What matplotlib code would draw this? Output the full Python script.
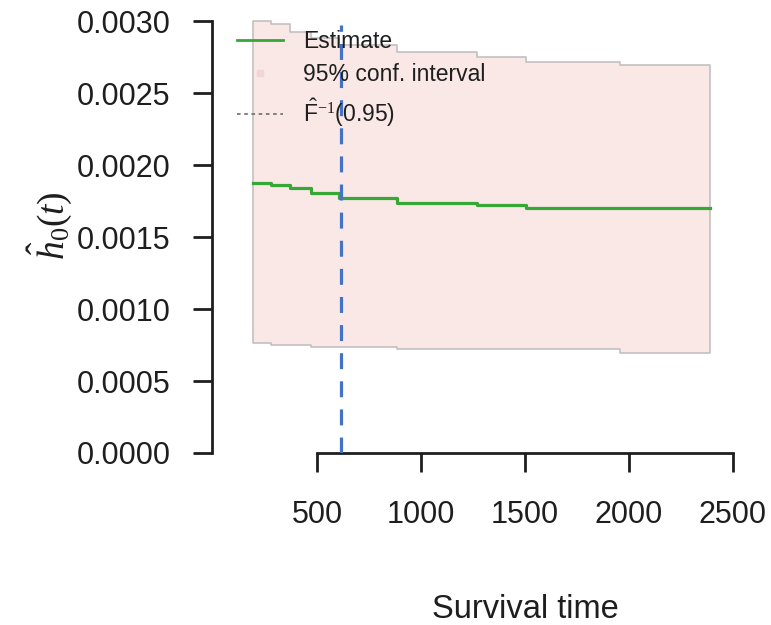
import numpy as np
import matplotlib
matplotlib.use("Agg")
import matplotlib.pyplot as plt
from matplotlib.lines import Line2D

plt.rcParams['font.family'] = ['Liberation Sans', 'DejaVu Sans']
plt.rcParams['mathtext.fontset'] = 'custom'
plt.rcParams['mathtext.rm'] = 'Liberation Serif'
plt.rcParams['mathtext.it'] = 'Liberation Serif:italic'
plt.rcParams['mathtext.sf'] = 'Liberation Sans'

# baseline hazard estimate (step function), change points in days
times = [192, 278, 370, 471, 607, 883, 1270, 1505, 1957, 2392]
estimate = [0.001877, 0.001861, 0.001843, 0.001803, 0.001773,
            0.001738, 0.001722, 0.001699, 0.001699, 0.001699]
upper = [0.00300, 0.002979, 0.002926, 0.00288, 0.00283,
         0.002787, 0.002752, 0.002718, 0.002694, 0.002694]
lower = [0.000766, 0.00075, 0.00075, 0.000734, 0.000734,
         0.00072, 0.00072, 0.00072, 0.000697, 0.000697]

# time where the cumulative distribution reaches 0.95
f_inv_95 = 615

xticks = [500, 1000, 1500, 2000, 2500]
yticks = [0.0, 0.0005, 0.0010, 0.0015, 0.0020, 0.0025, 0.0030]
ytick_labels = ['0.0000', '0.0005', '0.0010', '0.0015', '0.0020', '0.0025', '0.0030']

ink = '#1e1e1e'

fig = plt.figure(figsize=(7.71, 6.25), dpi=100)
ax = fig.add_axes([212 / 771, 1 - 453 / 625, 548 / 771, (453 - 16.7) / 625])

ax.fill_between(times, lower, upper, step='post', facecolor='#F9E8E5',
                edgecolor='#C4C0C0', linewidth=1.2, zorder=1)
ax.step(times, estimate, where='post', color='#36A836', linewidth=2.3, zorder=3)
ax.plot([f_inv_95, f_inv_95], [0, 0.00297], color='#4472C4', linewidth=2.3,
        dashes=(5.0, 3.8), zorder=4)

ax.set_xlim(-4.8, 2630)
ax.set_ylim(0, 0.00303)

for side in ['top', 'right']:
    ax.spines[side].set_visible(False)
ax.spines['left'].set_bounds(0, 0.003)
ax.spines['bottom'].set_bounds(500, 2500)
for side in ['left', 'bottom']:
    ax.spines[side].set_linewidth(2.0)
    ax.spines[side].set_color(ink)
    ax.spines[side].set_capstyle('projecting')

ax.set_xticks(xticks)
ax.set_xticklabels([str(t) for t in xticks])
ax.set_yticks(yticks)
ax.set_yticklabels(ytick_labels)
ax.tick_params(axis='both', length=14, width=2.0, color=ink,
               labelsize=22, labelcolor=ink)
ax.tick_params(axis='y', pad=16)
ax.tick_params(axis='x', pad=20)

fig.text(525 / 771, 1 - 610 / 625, 'Survival time', fontsize=23.5, color=ink,
         ha='center', va='center')
fig.text(50 / 771, 1 - 226 / 625, r'$\hat{h}_0(t)$', fontsize=27, color=ink,
         ha='center', va='center', rotation=90)

handles = [
    Line2D([], [], color='#36A836', linewidth=2.0),
    Line2D([], [], color='#F2D6D3', marker='s', markersize=5, linestyle='none'),
    Line2D([], [], color='#777777', linewidth=1.3, dashes=(2, 2)),
]
labels = ['Estimate', '95% conf. interval', r'$\hat{\mathsf{F}}^{-1}$(0.95)']
ax.legend(handles, labels, loc='upper left', frameon=False, fontsize=16.5,
          bbox_to_anchor=(237 / 771, 1 - 30 / 625), bbox_transform=fig.transFigure,
          borderaxespad=0, borderpad=0, handlelength=2.0, handletextpad=0.87,
          labelspacing=0.45, labelcolor=ink)

fig.savefig('out.png', dpi=100)
